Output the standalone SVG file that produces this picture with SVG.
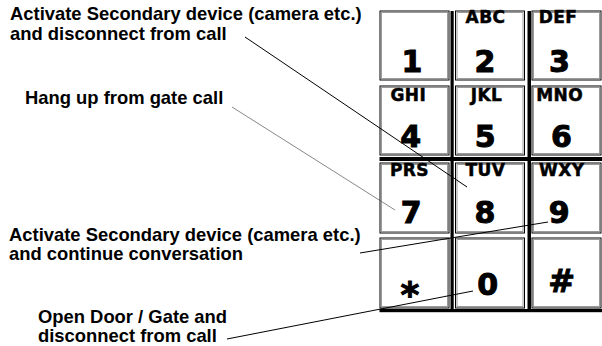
<svg xmlns="http://www.w3.org/2000/svg" width="602" height="346" viewBox="0 0 602 346">
<style>
.lbl{font-family:"Liberation Sans",Arial,sans-serif;font-weight:bold;font-size:18.4px;fill:#000}
.dig{font-family:"DejaVu Sans",sans-serif;font-weight:bold;font-size:30px;fill:#000;stroke:#000;stroke-width:1;text-anchor:middle}
.let{font-family:"DejaVu Sans",sans-serif;font-weight:bold;font-size:17px;letter-spacing:0.4px;fill:#000;stroke:#000;stroke-width:0.5;text-anchor:middle}
.ko{fill:#fff;stroke:#000;stroke-width:1}
.ki{fill:none;stroke:#9a9a9a;stroke-width:1}
.bar{fill:#000}
.ld{stroke:#000;stroke-width:1;fill:none}
.lg{stroke:#555;stroke-width:0.7;fill:none}
</style>
<rect width="602" height="346" fill="#fff"/>
<g id="keypad-bars">
<rect class="bar" x="450.5" y="11" width="3.2" height="301"/>
<rect class="bar" x="527.5" y="11" width="3.5" height="301"/>
<rect class="bar" x="379.5" y="157" width="222.5" height="4"/>
<rect class="bar" x="379.5" y="309" width="222.5" height="3.2"/>
</g>
<g id="key1"><rect class="ko" x="380" y="11" width="69" height="69"/><rect class="ki" x="381.5" y="12.5" width="66" height="66"/><text class="dig" x="412" y="72">1</text></g>
<g id="key2"><rect class="ko" x="455.5" y="11" width="69" height="69"/><rect class="ki" x="457" y="12.5" width="66" height="66"/><text class="let" x="485.5" y="22.7">ABC</text><text class="dig" x="485" y="72">2</text></g>
<g id="key3"><rect class="ko" x="532" y="11" width="69" height="69"/><rect class="ki" x="533.5" y="12.5" width="66" height="66"/><text class="let" x="558" y="22.7">DEF</text><text class="dig" x="559.5" y="72">3</text></g>
<g id="key4"><rect class="ko" x="380" y="86" width="69" height="69"/><rect class="ki" x="381.5" y="87.5" width="66" height="66"/><text class="let" x="408.3" y="100.7">GHI</text><text class="dig" x="410.7" y="147">4</text></g>
<g id="key5"><rect class="ko" x="455.5" y="86" width="69" height="69"/><rect class="ki" x="457" y="87.5" width="66" height="66"/><text class="let" x="486.5" y="100.7">JKL</text><text class="dig" x="485.3" y="147">5</text></g>
<g id="key6"><rect class="ko" x="532" y="86" width="69" height="69"/><rect class="ki" x="533.5" y="87.5" width="66" height="66"/><text class="let" x="559.7" y="100.7">MNO</text><text class="dig" x="561.5" y="147">6</text></g>
<g id="key7"><rect class="ko" x="380" y="163" width="69" height="70"/><rect class="ki" x="381.5" y="164.5" width="66" height="67"/><text class="let" x="409.5" y="175.7">PRS</text><text class="dig" x="411.2" y="223">7</text></g>
<g id="key8"><rect class="ko" x="455.5" y="163" width="69" height="70"/><rect class="ki" x="457" y="164.5" width="66" height="67"/><text class="let" x="485.5" y="175.7">TUV</text><text class="dig" x="485" y="223">8</text></g>
<g id="key9"><rect class="ko" x="532" y="163" width="69" height="70"/><rect class="ki" x="533.5" y="164.5" width="66" height="67"/><text class="let" x="561.7" y="175.7">WXY</text><text class="dig" x="559.2" y="223">9</text></g>
<g id="keystar"><rect class="ko" x="380" y="238" width="69" height="70"/><rect class="ki" x="381.5" y="239.5" width="66" height="67"/><text class="dig" x="410" y="307" style="font-size:36px">*</text></g>
<g id="key0"><rect class="ko" x="455.5" y="238" width="69" height="70"/><rect class="ki" x="457" y="239.5" width="66" height="67"/><text class="dig" x="487.7" y="294.5">0</text></g>
<g id="keyhash"><rect class="ko" x="532" y="238" width="69" height="70"/><rect class="ki" x="533.5" y="239.5" width="66" height="67"/><text class="dig" x="561.7" y="291.7" style="font-size:32px">#</text></g>
<g id="labels">
<text class="lbl" x="10" y="20">Activate Secondary device (camera etc.)</text>
<text class="lbl" x="10" y="39.5">and disconnect from call</text>
<text class="lbl" x="25" y="104">Hang up from gate call</text>
<text class="lbl" x="9" y="240.5">Activate Secondary device (camera etc.)</text>
<text class="lbl" x="9" y="259.5">and continue conversation</text>
<text class="lbl" x="38" y="322.5">Open Door / Gate and</text>
<text class="lbl" x="38" y="341.5">disconnect from call</text>
</g>
<g id="connectors">
<line class="ld" x1="245" y1="37" x2="467" y2="187"/>
<line class="lg" x1="232" y1="107" x2="395" y2="210"/>
<line class="ld" x1="360" y1="253" x2="548" y2="222"/>
<line class="ld" x1="227" y1="339" x2="473" y2="291"/>
</g>
</svg>
